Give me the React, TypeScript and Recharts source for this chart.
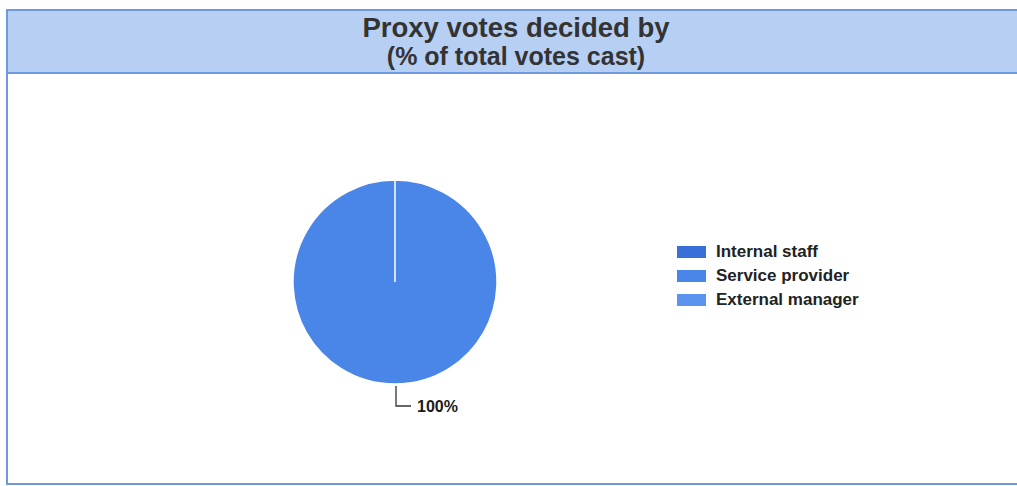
import { Cell, Legend, Pie, PieChart } from "recharts";

const CATEGORIES = ["Internal staff", "Service provider", "External manager"];
const SHARES = [0, 100, 0];
const COLORS = ["#3b6fd8", "#4a85e8", "#5b93ee"];

const data = CATEGORIES.map((name, i) => ({ name, value: SHARES[i] }));

const RAD = Math.PI / 180;

function renderLabel(props: any) {
  const { cx, cy, outerRadius, midAngle, value } = props;
  if (!value) return null;
  const x = cx + outerRadius * Math.cos(-midAngle * RAD) + 1;
  const y = cy - outerRadius * Math.sin(midAngle * RAD) + 22;
  return (
    <text x={x + 21} y={y + 6} fill="#1a1a1a" fontSize={16} fontWeight="bold" textAnchor="start">
      {`${value}%`}
    </text>
  );
}

function renderLabelLine(props: any) {
  const { cx, cy, outerRadius, midAngle, payload } = props;
  if (!payload || !payload.value) return <g />;
  const x = cx + outerRadius * Math.cos(-midAngle * RAD) + 1;
  const y0 = cy - outerRadius * Math.sin(midAngle * RAD) + 2;
  const y1 = y0 + 20;
  return <polyline points={`${x},${y0} ${x},${y1} ${x + 15},${y1}`} fill="none" stroke="#333" strokeWidth={1.3} />;
}

function LegendBox() {
  return (
    <div>
      {CATEGORIES.map((name, i) => (
        <div key={name} style={{ display: "flex", alignItems: "center", height: 24 }}>
          <span style={{ width: 29, height: 12, background: COLORS[i], marginRight: 10, display: "inline-block" }} />
          <span style={{ fontSize: 17, fontWeight: "bold", color: "#222" }}>{name}</span>
        </div>
      ))}
    </div>
  );
}

export default function App() {
  return (
    <div
      style={{
        position: "fixed",
        left: 0,
        top: 0,
        width: 1017,
        height: 486,
        background: "#fff",
        fontFamily: "'Liberation Sans', Arial, sans-serif",
        overflow: "hidden",
      }}
    >
      <div
        style={{
          position: "absolute",
          left: 6,
          top: 9,
          width: 1020,
          height: 476,
          border: "2px solid #6f98e2",
          boxSizing: "border-box",
        }}
      />
      <div
        style={{
          position: "absolute",
          left: 6,
          top: 9,
          width: 1020,
          height: 65,
          background: "#b6cff3",
          border: "2px solid #6f98e2",
          boxSizing: "border-box",
          textAlign: "center",
          color: "#333",
          fontWeight: "bold",
        }}
      >
        <div style={{ fontSize: 27.5, lineHeight: "30px", marginTop: 2 }}>Proxy votes decided by</div>
        <div style={{ fontSize: 25, lineHeight: "27px" }}>(% of total votes cast)</div>
      </div>
      <div style={{ position: "absolute", left: 0, top: 0 }}>
        <PieChart width={1017} height={486}>
          <Pie
            data={data}
            dataKey="value"
            nameKey="name"
            cx={390}
            cy={277}
            outerRadius={102}
            startAngle={90}
            endAngle={-270}
            stroke="#ffffff"
            strokeWidth={1.5}
            label={renderLabel}
            labelLine={renderLabelLine}
            isAnimationActive={false}
          >
            {data.map((entry, index) => (
              <Cell key={entry.name} fill={COLORS[index]} />
            ))}
          </Pie>
          <Legend
            layout="vertical"
            content={<LegendBox />}
            wrapperStyle={{ position: "absolute", left: 677, top: 240, width: 240 }}
          />
        </PieChart>
      </div>
    </div>
  );
}
